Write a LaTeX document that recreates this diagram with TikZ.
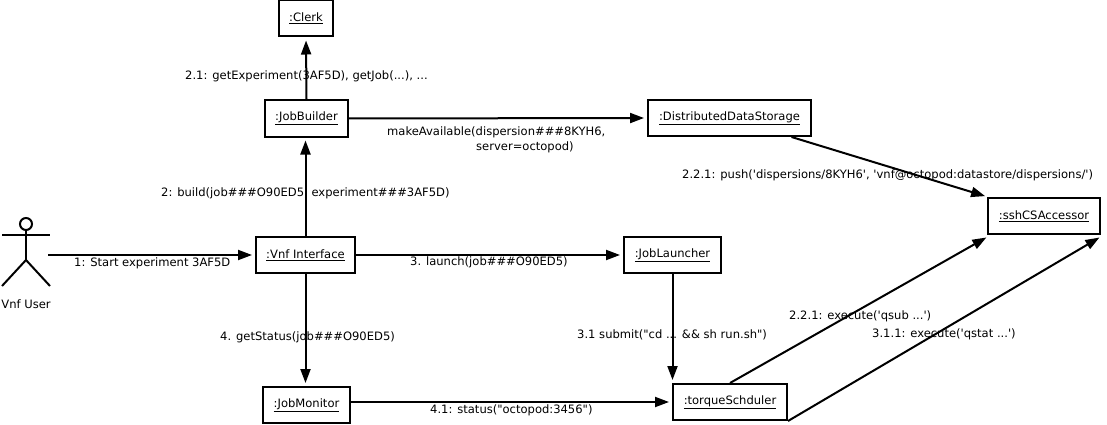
\documentclass[tikz,border=0pt]{standalone}
\usepackage{fontspec}
\newfontfamily\diagfont{DejaVu Sans}
\usetikzlibrary{arrows.meta}
\tikzset{
  objbox/.style={draw=black,line width=2pt,fill=white,inner sep=0pt,anchor=center,font=\diagfont\fontsize{11.55}{13}\selectfont},
  msg/.style={inner sep=0pt,anchor=west,font=\diagfont\fontsize{11.55}{13}\selectfont,text=black},
  conn/.style={draw=black,line width=2pt,-{Triangle[length=14pt,width=10pt]},shorten >=3pt},
  stick/.style={draw=black,line width=2pt}
}
\begin{document}
\begin{tikzpicture}[x=1pt,y=-1pt]
\useasboundingbox (0,0) rectangle (1107,425);
% objects
\node[objbox,minimum width=54pt,minimum height=36pt] (clerk) at (306,18.5) {\underline{:Clerk}};
\node[objbox,minimum width=83pt,minimum height=36pt] (jb) at (306.5,118.5) {\underline{:JobBuilder}};
\node[objbox,minimum width=163pt,minimum height=36pt] (dds) at (729.5,118) {\underline{:DistributedDataStorage}};
\node[objbox,minimum width=112pt,minimum height=36pt] (ssh) at (1044,216) {\underline{:sshCSAccessor}};
\node[objbox,minimum width=97pt,minimum height=36pt] (vl) at (672.5,255) {\underline{:JobLauncher}};
\node[objbox,minimum width=99pt,minimum height=36pt] (vnf) at (305.5,255) {\underline{:Vnf Interface}};
\node[objbox,minimum width=87pt,minimum height=36pt] (mon) at (306.5,405) {\underline{:JobMonitor}};
\node[objbox,minimum width=114pt,minimum height=36pt] (tq) at (730,402) {\underline{:torqueSchduler}};
% actor
\node[draw=black,line width=2pt,circle,minimum size=12pt,inner sep=0pt] (head) at (26,224) {};
\coordinate (hip) at (26,260);
\coordinate (larm) at (2,235);
\coordinate (rarm) at (50,235);
\coordinate (lfoot) at (2,286);
\coordinate (rfoot) at (50,286);
\draw[stick] (head.south) -- (hip);
\draw[stick] (larm) -- (rarm);
\draw[stick] (lfoot) -- (hip) -- (rfoot);
\node[msg,anchor=center] (userlabel) at (26,304.5) {Vnf User};
\coordinate (hand) at (48,255);
% connectors
\draw[conn] (hand) -- (vnf.west);
\draw[conn] (vnf.north) -- (vnf.north |- jb.south);
\draw[conn] (jb.north) -- (clerk.south);
\draw[conn] (jb.east) -- (dds.west);
\draw[conn] ([xshift=62pt]dds.south) -- ([xshift=1pt,yshift=0pt]ssh.north west);
\draw[conn] (vnf.east) -- (vl.west);
\draw[conn] (vl.south) -- (vl.south |- tq.north);
\draw[conn] (vnf.south) -- (vnf.south |- mon.north);
\draw[conn] (mon.east |- tq.west) -- (tq.west);
\draw[conn] (tq.north) -- ([xshift=2pt,yshift=-1pt]ssh.south west);
\draw[conn] (tq.south east) -- ([xshift=1pt,yshift=-1pt]ssh.south east);
% labels
\node[msg] (l1) at (74,263) {1: Start experiment 3AF5D};
\node[msg] (l2) at (161,193) {2: build(job\#\#\#O90ED5, experiment\#\#\#3AF5D)};
\node[msg] (l21) at (185,76) {2.1: getExperiment(3AF5D), getJob(...), ...};
\node[msg] (l22a) at (387,132) {makeAvailable(dispersion\#\#\#8KYH6,};
\node[msg] (l22b) at (476,147) {server=octopod)};
\node[msg] (l221) at (682,175) {2.2.1: push('dispersions/8KYH6', 'vnf@octopod:datastore/dispersions/')};
\node[msg] (l3) at (410,262) {3. launch(job\#\#\#O90ED5)};
\node[msg] (l31) at (577,335) {3.1 submit("cd ... \&\& sh run.sh")};
\node[msg] (l4) at (220,337) {4. getStatus(job\#\#\#O90ED5)};
\node[msg] (l41) at (430,410) {4.1: status("octopod:3456")};
\node[msg] (l221b) at (789,316) {2.2.1: execute('qsub ...')};
\node[msg] (l311) at (872,334) {3.1.1: execute('qstat ...')};
\end{tikzpicture}
\end{document}
